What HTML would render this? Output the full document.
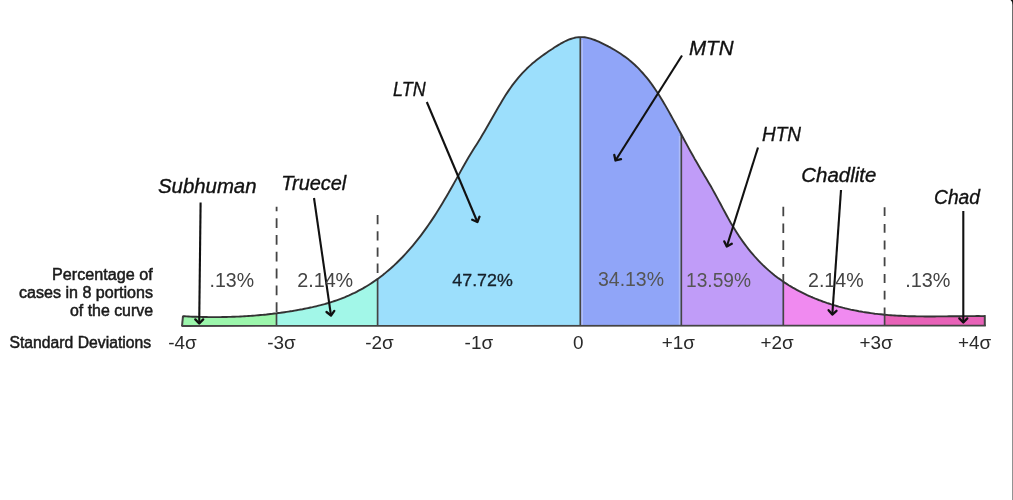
<!DOCTYPE html>
<html><head><meta charset="utf-8"><title>Bell curve</title>
<style>
html,body{margin:0;padding:0;background:#fff;}
body{width:1013px;height:500px;overflow:hidden;position:relative;}
svg{position:absolute;left:0;top:0;display:block;}
text{font-family:"Liberation Sans",sans-serif;}
.it{font-style:italic;font-size:20px;fill:#111;stroke:#111;stroke-width:0.35px;}
.pc{font-size:19.4px;}
.pb{font-size:17px;stroke:#16202a;stroke-width:0.3px;}
.sg{font-size:18.4px;fill:#2a2a2a;}
.lf{font-size:15.8px;fill:#1a1a1a;stroke:#1a1a1a;stroke-width:0.5px;}
</style></head><body>
<svg width="1013" height="500" viewBox="0 0 1013 500" style="filter:blur(0.45px)">
<rect x="0" y="0" width="1013" height="500" fill="#ffffff"/>
<g id="regions">
<polygon points="182.5,326.0 182.5,316.2 185.5,316.4 188.6,316.5 191.6,316.6 194.6,316.7 197.7,316.8 200.7,316.9 203.7,317.0 206.8,317.0 209.8,317.1 212.8,317.1 215.9,317.1 218.9,317.1 221.9,317.0 225.0,317.0 228.0,316.9 231.0,316.8 234.0,316.7 237.1,316.6 240.1,316.5 243.1,316.3 246.2,316.1 249.2,315.9 252.2,315.7 255.3,315.5 258.3,315.2 261.3,315.0 264.4,314.7 267.4,314.4 270.4,314.0 273.5,313.7 276.5,313.3 276.5,326.0" fill="#9cf6ac"/>
<polygon points="276.5,326.0 276.5,313.3 279.5,312.9 282.4,312.5 285.4,312.1 288.4,311.6 291.4,311.1 294.3,310.7 297.3,310.1 300.3,309.6 303.3,309.0 306.2,308.4 309.2,307.8 312.2,307.2 315.2,306.5 318.1,305.8 321.1,305.0 324.1,304.2 327.1,303.4 330.0,302.5 333.0,301.5 336.0,300.5 338.9,299.5 341.9,298.3 344.9,297.1 347.9,295.9 350.8,294.5 353.8,293.1 356.8,291.7 359.8,290.1 362.7,288.5 365.7,286.7 368.7,284.9 371.7,283.0 374.6,281.0 377.6,278.9 377.6,326.0" fill="#a2f7e8"/>
<polygon points="377.6,326.0 377.6,278.9 380.6,276.7 383.6,274.4 386.5,272.0 389.5,269.4 392.5,266.8 395.5,264.0 398.5,261.1 401.4,258.1 404.4,255.0 407.4,251.8 410.4,248.4 413.4,244.9 416.4,241.2 419.3,237.4 422.3,233.5 425.3,229.5 428.3,225.3 431.3,220.9 434.2,216.4 437.2,211.8 440.2,207.0 443.2,202.0 446.2,197.0 449.1,191.8 452.1,186.6 455.1,181.2 458.1,175.9 461.1,170.5 464.0,165.2 467.0,160.0 470.0,155.0 473.0,150.2 476.0,145.4 478.9,140.7 481.9,135.8 484.9,130.7 487.9,125.5 490.9,120.3 493.9,115.0 496.8,109.8 499.8,104.7 502.8,99.7 505.8,94.9 508.8,90.4 511.7,86.1 514.7,82.1 517.7,78.4 520.7,75.0 523.7,71.8 526.6,68.8 529.6,66.0 532.6,63.4 535.6,60.9 538.6,58.6 541.5,56.3 544.5,54.2 547.5,52.1 550.5,50.1 553.5,48.1 556.5,46.2 559.4,44.4 562.4,42.7 565.4,41.2 568.4,39.9 571.4,38.7 574.3,37.9 577.3,37.3 580.3,37.1 580.3,326.0" fill="#9cdffc"/>
<polygon points="580.3,326.0 580.3,37.1 583.3,37.1 586.2,37.5 589.2,38.2 592.2,39.1 595.2,40.2 598.1,41.4 601.1,42.8 604.1,44.3 607.0,45.8 610.0,47.4 613.0,49.0 615.9,50.8 618.9,52.6 621.9,54.6 624.9,56.7 627.8,59.0 630.8,61.4 633.8,64.0 636.7,66.8 639.7,69.8 642.7,73.0 645.7,76.4 648.6,80.1 651.6,84.1 654.6,88.3 657.5,92.8 660.5,97.5 663.5,102.4 666.4,107.5 669.4,112.7 672.4,118.0 675.4,123.5 678.3,128.9 681.3,134.4 681.3,326.0" fill="#90a5f8"/>
<polygon points="681.3,326.0 681.3,134.4 684.3,140.0 687.3,145.5 690.3,151.0 693.3,156.4 696.3,161.7 699.3,166.8 702.3,171.9 705.3,176.9 708.3,182.0 711.3,187.2 714.3,192.5 717.3,198.0 720.3,203.6 723.3,209.2 726.3,214.8 729.3,220.2 732.3,225.4 735.3,230.3 738.3,235.0 741.3,239.4 744.3,243.6 747.3,247.6 750.3,251.3 753.3,254.9 756.3,258.3 759.3,261.5 762.3,264.5 765.3,267.3 768.3,270.0 771.3,272.6 774.3,275.0 777.3,277.3 780.3,279.5 783.3,281.6 783.3,326.0" fill="#c09cf8"/>
<polygon points="783.3,326.0 783.3,281.6 786.3,283.6 789.3,285.5 792.2,287.3 795.2,289.0 798.2,290.6 801.2,292.2 804.2,293.6 807.1,295.1 810.1,296.4 813.1,297.7 816.1,298.9 819.1,300.1 822.0,301.2 825.0,302.3 828.0,303.3 831.0,304.3 834.0,305.2 836.9,306.1 839.9,306.9 842.9,307.7 845.9,308.4 848.8,309.1 851.8,309.8 854.8,310.4 857.8,311.0 860.8,311.5 863.7,312.1 866.7,312.5 869.7,313.0 872.7,313.4 875.7,313.8 878.6,314.1 881.6,314.4 884.6,314.7 884.6,326.0" fill="#f08af0"/>
<polygon points="884.6,326.0 884.6,314.7 887.6,315.0 890.7,315.2 893.7,315.4 896.7,315.6 899.8,315.8 902.8,315.9 905.9,316.1 908.9,316.2 911.9,316.3 915.0,316.3 918.0,316.4 921.0,316.4 924.1,316.5 927.1,316.5 930.1,316.5 933.2,316.5 936.2,316.4 939.3,316.4 942.3,316.4 945.3,316.4 948.4,316.3 951.4,316.3 954.4,316.3 957.5,316.2 960.5,316.2 963.5,316.1 966.6,316.1 969.6,316.1 972.7,316.1 975.7,316.1 978.7,316.0 981.8,316.1 984.8,316.1 984.8,326.0" fill="#e862b8"/>
</g>
<g id="lines">
<line x1="276.5" y1="313.3" x2="276.5" y2="326.0" stroke="#444" stroke-width="1.7"/>
<line x1="377.6" y1="278.9" x2="377.6" y2="326.0" stroke="#444" stroke-width="1.7"/>
<line x1="580.3" y1="37.1" x2="580.3" y2="326.0" stroke="#444" stroke-width="1.7"/>
<line x1="681.3" y1="134.4" x2="681.3" y2="326.0" stroke="#444" stroke-width="1.7"/>
<line x1="783.3" y1="281.6" x2="783.3" y2="326.0" stroke="#444" stroke-width="1.7"/>
<line x1="884.6" y1="314.7" x2="884.6" y2="326.0" stroke="#444" stroke-width="1.7"/>
<line x1="582.1" y1="40" x2="582.1" y2="325" stroke="#fff" stroke-opacity="0.3" stroke-width="1.6"/>
<line x1="679.6" y1="136" x2="679.6" y2="325" stroke="#fff" stroke-opacity="0.25" stroke-width="1.6"/>
<line x1="183.0" y1="316.2" x2="182.0" y2="326.0" stroke="#444" stroke-width="2"/>
<line x1="984.8" y1="315.1" x2="984.8" y2="326.0" stroke="#444" stroke-width="2"/>
<line x1="181.5" y1="326.0" x2="985.8" y2="325.6" stroke="#444" stroke-width="1.8"/>
<polyline points="182.5,316.2 184.5,316.3 186.5,316.4 188.5,316.5 190.5,316.6 192.5,316.7 194.5,316.7 196.5,316.8 198.5,316.9 200.5,316.9 202.5,317.0 204.5,317.0 206.5,317.0 208.5,317.1 210.5,317.1 212.5,317.1 214.5,317.1 216.5,317.1 218.5,317.1 220.5,317.1 222.5,317.0 224.5,317.0 226.5,317.0 228.5,316.9 230.5,316.9 232.5,316.8 234.5,316.7 236.5,316.6 238.5,316.6 240.5,316.5 242.5,316.4 244.5,316.2 246.5,316.1 248.5,316.0 250.5,315.9 252.5,315.7 254.5,315.6 256.5,315.4 258.5,315.2 260.5,315.0 262.5,314.9 264.5,314.7 266.5,314.5 268.5,314.2 270.5,314.0 272.5,313.8 274.5,313.5 276.5,313.3 278.5,313.0 280.5,312.8 282.5,312.5 284.5,312.2 286.5,311.9 288.5,311.6 290.5,311.3 292.5,311.0 294.5,310.6 296.5,310.3 298.5,309.9 300.5,309.5 302.5,309.2 304.5,308.8 306.5,308.4 308.5,308.0 310.5,307.5 312.5,307.1 314.5,306.6 316.6,306.2 318.6,305.7 320.6,305.2 322.6,304.6 324.6,304.1 326.6,303.5 328.6,302.9 330.6,302.3 332.6,301.7 334.6,301.0 336.6,300.3 338.6,299.6 340.6,298.9 342.6,298.1 344.6,297.3 346.6,296.4 348.6,295.6 350.6,294.7 352.6,293.7 354.6,292.8 356.6,291.8 358.6,290.7 360.6,289.7 362.6,288.6 364.6,287.4 366.6,286.2 368.6,285.0 370.6,283.7 372.6,282.4 374.6,281.0 376.6,279.6 378.6,278.2 380.6,276.7 382.6,275.2 384.6,273.6 386.6,271.9 388.6,270.2 390.6,268.5 392.6,266.7 394.6,264.9 396.6,263.0 398.6,261.0 400.6,259.0 402.6,257.0 404.6,254.8 406.6,252.7 408.6,250.4 410.6,248.1 412.6,245.8 414.6,243.4 416.6,240.9 418.6,238.4 420.6,235.8 422.6,233.1 424.6,230.4 426.6,227.6 428.6,224.8 430.6,221.9 432.6,218.9 434.6,215.9 436.6,212.8 438.6,209.6 440.6,206.3 442.6,203.0 444.6,199.6 446.6,196.2 448.6,192.8 450.6,189.2 452.6,185.7 454.6,182.1 456.6,178.6 458.6,175.0 460.6,171.4 462.6,167.8 464.6,164.2 466.6,160.7 468.6,157.3 470.6,154.0 472.6,150.8 474.6,147.6 476.6,144.4 478.6,141.2 480.6,138.0 482.6,134.6 484.6,131.2 486.6,127.8 488.6,124.3 490.6,120.7 492.6,117.2 494.6,113.7 496.6,110.2 498.6,106.8 500.6,103.4 502.6,100.0 504.6,96.8 506.6,93.6 508.6,90.6 510.6,87.7 512.6,84.9 514.6,82.3 516.6,79.8 518.6,77.4 520.6,75.1 522.6,72.9 524.6,70.8 526.6,68.8 528.6,66.9 530.6,65.1 532.6,63.3 534.6,61.7 536.6,60.1 538.6,58.5 540.6,57.0 542.6,55.5 544.6,54.1 546.6,52.7 548.6,51.3 550.6,50.0 552.6,48.7 554.6,47.3 556.6,46.1 558.6,44.9 560.6,43.7 562.6,42.6 564.6,41.5 566.6,40.6 568.6,39.7 570.6,39.0 572.6,38.3 574.6,37.8 576.6,37.4 578.6,37.2 580.6,37.1 582.6,37.1 584.7,37.3 586.7,37.6 588.7,38.1 590.7,38.6 592.7,39.3 594.7,40.0 596.7,40.8 598.7,41.7 600.7,42.6 602.7,43.6 604.7,44.6 606.7,45.6 608.7,46.7 610.7,47.7 612.7,48.9 614.7,50.0 616.7,51.2 618.7,52.5 620.7,53.8 622.7,55.2 624.7,56.6 626.7,58.1 628.7,59.6 630.7,61.3 632.7,63.0 634.7,64.8 636.7,66.7 638.7,68.7 640.7,70.8 642.7,73.0 644.7,75.3 646.7,77.7 648.7,80.2 650.7,82.8 652.7,85.6 654.7,88.5 656.7,91.5 658.7,94.6 660.7,97.8 662.7,101.1 664.7,104.4 666.7,107.9 668.7,111.4 670.7,115.0 672.7,118.6 674.7,122.2 676.7,125.9 678.7,129.6 680.7,133.3 682.7,137.0 684.7,140.7 686.7,144.4 688.7,148.1 690.7,151.7 692.7,155.3 694.7,158.9 696.7,162.3 698.7,165.8 700.7,169.2 702.7,172.5 704.7,175.9 706.7,179.3 708.7,182.7 710.7,186.1 712.7,189.6 714.7,193.2 716.7,196.9 718.7,200.6 720.7,204.3 722.7,208.1 724.7,211.8 726.7,215.5 728.7,219.1 730.7,222.7 732.7,226.1 734.7,229.3 736.7,232.5 738.7,235.6 740.7,238.5 742.7,241.4 744.7,244.1 746.7,246.8 748.7,249.4 750.7,251.8 752.7,254.2 754.7,256.5 756.7,258.7 758.7,260.8 760.7,262.9 762.7,264.9 764.7,266.8 766.7,268.6 768.7,270.4 770.7,272.1 772.7,273.8 774.7,275.4 776.7,276.9 778.7,278.4 780.7,279.8 782.7,281.2 784.7,282.6 786.7,283.9 788.7,285.2 790.7,286.4 792.7,287.6 794.7,288.7 796.7,289.8 798.7,290.9 800.7,291.9 802.7,292.9 804.7,293.9 806.7,294.9 808.7,295.8 810.7,296.7 812.7,297.5 814.7,298.4 816.7,299.2 818.7,300.0 820.7,300.7 822.7,301.5 824.7,302.2 826.7,302.9 828.7,303.5 830.7,304.2 832.7,304.8 834.7,305.4 836.7,306.0 838.7,306.6 840.7,307.1 842.7,307.7 844.7,308.2 846.7,308.6 848.7,309.1 850.7,309.6 852.8,310.0 854.8,310.4 856.8,310.8 858.8,311.2 860.8,311.5 862.8,311.9 864.8,312.2 866.8,312.5 868.8,312.8 870.8,313.1 872.8,313.4 874.8,313.7 876.8,313.9 878.8,314.1 880.8,314.3 882.8,314.5 884.8,314.7 886.8,314.9 888.8,315.1 890.8,315.2 892.8,315.4 894.8,315.5 896.8,315.6 898.8,315.7 900.8,315.8 902.8,315.9 904.8,316.0 906.8,316.1 908.8,316.2 910.8,316.2 912.8,316.3 914.8,316.3 916.8,316.4 918.8,316.4 920.8,316.4 922.8,316.4 924.8,316.5 926.8,316.5 928.8,316.5 930.8,316.5 932.8,316.5 934.8,316.5 936.8,316.4 938.8,316.4 940.8,316.4 942.8,316.4 944.8,316.4 946.8,316.4 948.8,316.3 950.8,316.3 952.8,316.3 954.8,316.3 956.8,316.2 958.8,316.2 960.8,316.2 962.8,316.2 964.8,316.1 966.8,316.1 968.8,316.1 970.8,316.1 972.8,316.1 974.8,316.1 976.8,316.0 978.8,316.0 980.8,316.1 982.8,316.1 984.8,316.1" fill="none" stroke="#333" stroke-width="1.9" stroke-linejoin="round"/>
<line x1="276.6" y1="206.7" x2="276.6" y2="313.3" stroke="#444" stroke-width="1.8" stroke-dasharray="9.8 7" stroke-dashoffset="5.3"/>
<line x1="377.6" y1="215.0" x2="377.6" y2="278.9" stroke="#444" stroke-width="1.8" stroke-dasharray="9.3 6.9" stroke-dashoffset="0.0"/>
<line x1="783.3" y1="206.7" x2="783.3" y2="281.6" stroke="#444" stroke-width="1.8" stroke-dasharray="9.6 7.2" stroke-dashoffset="0.0"/>
<line x1="884.6" y1="207.2" x2="884.6" y2="314.7" stroke="#444" stroke-width="1.8" stroke-dasharray="8.9 7.8" stroke-dashoffset="0.0"/>
</g>
<g id="arrows">
<line x1="200.6" y1="202.5" x2="199.2" y2="323.5" stroke="#111" stroke-width="2.1"/><polyline points="195.3,319.4 199.2,323.5 203.2,319.4" fill="none" stroke="#111" stroke-width="2.3" stroke-linejoin="round" stroke-linecap="round"/>
<line x1="314.0" y1="198.0" x2="331.0" y2="315.5" stroke="#111" stroke-width="2.1"/><polyline points="326.5,312.0 331.0,315.5 334.3,310.9" fill="none" stroke="#111" stroke-width="2.3" stroke-linejoin="round" stroke-linecap="round"/>
<line x1="426.8" y1="102.0" x2="477.4" y2="222.0" stroke="#111" stroke-width="2.1"/><polyline points="472.2,219.8 477.4,222.0 479.5,216.7" fill="none" stroke="#111" stroke-width="2.3" stroke-linejoin="round" stroke-linecap="round"/>
<line x1="682.0" y1="55.5" x2="615.5" y2="160.5" stroke="#111" stroke-width="2.1"/><polyline points="614.3,154.9 615.5,160.5 621.0,159.2" fill="none" stroke="#111" stroke-width="2.3" stroke-linejoin="round" stroke-linecap="round"/>
<line x1="758.0" y1="147.5" x2="726.8" y2="246.5" stroke="#111" stroke-width="2.1"/><polyline points="724.3,241.4 726.8,246.5 731.8,243.8" fill="none" stroke="#111" stroke-width="2.3" stroke-linejoin="round" stroke-linecap="round"/>
<line x1="841.0" y1="190.0" x2="832.3" y2="314.6" stroke="#111" stroke-width="2.1"/><polyline points="828.6,310.2 832.3,314.6 836.5,310.8" fill="none" stroke="#111" stroke-width="2.3" stroke-linejoin="round" stroke-linecap="round"/>
<line x1="963.3" y1="211.0" x2="963.3" y2="322.5" stroke="#111" stroke-width="2.1"/><polyline points="959.3,318.4 963.3,322.5 967.3,318.4" fill="none" stroke="#111" stroke-width="2.3" stroke-linejoin="round" stroke-linecap="round"/>
</g>
<g id="labels">
<text x="158.0" y="192.6" textLength="98.5" lengthAdjust="spacingAndGlyphs" class="it">Subhuman</text>
<text x="281.3" y="189.8" textLength="65.0" lengthAdjust="spacingAndGlyphs" class="it">Truecel</text>
<text x="393.1" y="95.8" textLength="32.5" lengthAdjust="spacingAndGlyphs" class="it">LTN</text>
<text x="689.0" y="55.2" textLength="44.5" lengthAdjust="spacingAndGlyphs" class="it">MTN</text>
<text x="762.0" y="140.8" textLength="39.0" lengthAdjust="spacingAndGlyphs" class="it">HTN</text>
<text x="801.3" y="181.8" textLength="75.0" lengthAdjust="spacingAndGlyphs" class="it">Chadlite</text>
<text x="934.0" y="203.5" textLength="46.0" lengthAdjust="spacingAndGlyphs" class="it">Chad</text>
<text x="209.5" y="287.4" textLength="44.5" lengthAdjust="spacingAndGlyphs" class="pc" fill="#444">.13%</text>
<text x="297.2" y="286.5" textLength="56.0" lengthAdjust="spacingAndGlyphs" class="pc" fill="#444">2.14%</text>
<text x="452.3" y="286.3" textLength="60.5" lengthAdjust="spacingAndGlyphs" class="pb" fill="#16202a">47.72%</text>
<text x="598.0" y="286.3" textLength="66.0" lengthAdjust="spacingAndGlyphs" class="pc" fill="#555">34.13%</text>
<text x="686.0" y="286.5" textLength="65.0" lengthAdjust="spacingAndGlyphs" class="pc" fill="#555">13.59%</text>
<text x="808.0" y="286.5" textLength="55.6" lengthAdjust="spacingAndGlyphs" class="pc" fill="#444">2.14%</text>
<text x="905.3" y="286.5" textLength="45.2" lengthAdjust="spacingAndGlyphs" class="pc" fill="#444">.13%</text>
<text x="168.2" y="348.5" textLength="28.5" lengthAdjust="spacingAndGlyphs" class="sg">-4σ</text>
<text x="267.2" y="348.5" textLength="28.5" lengthAdjust="spacingAndGlyphs" class="sg">-3σ</text>
<text x="365.2" y="348.5" textLength="28.5" lengthAdjust="spacingAndGlyphs" class="sg">-2σ</text>
<text x="464.6" y="348.5" textLength="28.5" lengthAdjust="spacingAndGlyphs" class="sg">-1σ</text>
<text x="573.0" y="348.5" textLength="10.5" lengthAdjust="spacingAndGlyphs" class="sg">0</text>
<text x="661.7" y="349.0" textLength="33.2" lengthAdjust="spacingAndGlyphs" class="sg">+1σ</text>
<text x="760.4" y="349.0" textLength="33.2" lengthAdjust="spacingAndGlyphs" class="sg">+2σ</text>
<text x="859.4" y="349.0" textLength="33.2" lengthAdjust="spacingAndGlyphs" class="sg">+3σ</text>
<text x="957.9" y="349.0" textLength="33.2" lengthAdjust="spacingAndGlyphs" class="sg">+4σ</text>
<text x="52.0" y="279.5" textLength="100.7" lengthAdjust="spacingAndGlyphs" class="lf">Percentage of</text>
<text x="19.0" y="297.5" textLength="134.0" lengthAdjust="spacingAndGlyphs" class="lf">cases in 8 portions</text>
<text x="70.0" y="315.5" textLength="83.0" lengthAdjust="spacingAndGlyphs" class="lf">of the curve</text>
<text x="9.5" y="348.0" textLength="141.6" lengthAdjust="spacingAndGlyphs" class="lf">Standard Deviations</text>
</g>
<defs><linearGradient id="eg" x1="0" y1="0" x2="0" y2="1"><stop offset="0" stop-color="#3a3a3a"/><stop offset="1" stop-color="#707070"/></linearGradient></defs>
<rect x="1012.25" y="0" width="0.75" height="500" fill="url(#eg)"/>
<path d="M1010.5,0 H1013 V5 Q1012.5,1.5 1010.5,0 Z" fill="#111"/>
</svg>
</body></html>
